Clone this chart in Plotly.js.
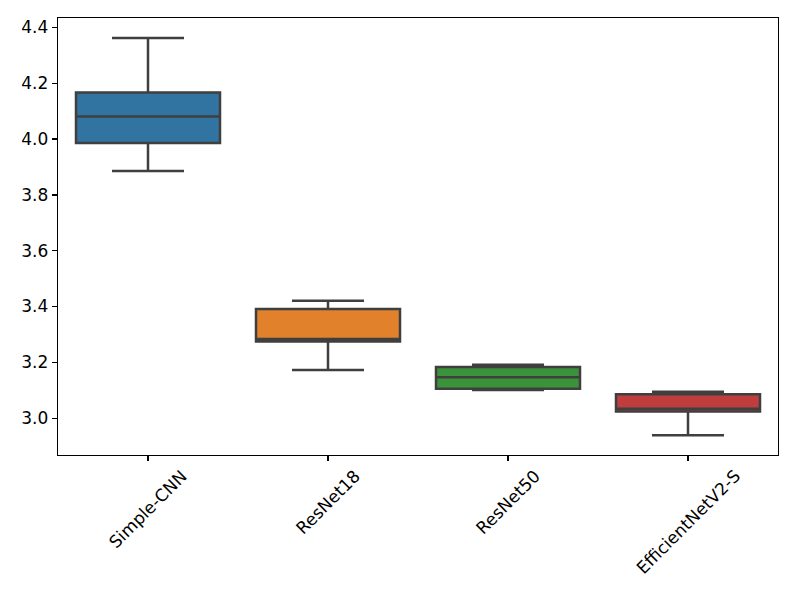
<!DOCTYPE html>
<html>
<head>
<meta charset="utf-8">
<script src="https://cdn.plot.ly/plotly-3.0.1.min.js"></script>
<style>html,body{margin:0;padding:0;background:#fff;}#chart{width:797px;height:598px;}</style>
</head>
<body>
<div id="chart"></div>
<script>
const categories = ["Simple-CNN", "ResNet18", "ResNet50", "EfficientNetV2-S"];
const lowerWhisker = [3.886, 3.173, 3.101, 2.939];
const q1Values = [3.986, 3.275, 3.105, 3.024];
const medianValues = [4.081, 3.284, 3.147, 3.034];
const q3Values = [4.167, 3.391, 3.183, 3.086];
const upperWhisker = [4.362, 3.421, 3.191, 3.095];
const yTickValues = [3.0, 3.2, 3.4, 3.6, 3.8, 4.0, 4.2, 4.4];
const boxColors = ["#3274a1", "#e1812c", "#3a923a", "#c03d3e"];

const traces = categories.map((c, i) => ({
  type: "box",
  x: [c],
  q1: [q1Values[i]],
  median: [medianValues[i]],
  q3: [q3Values[i]],
  lowerfence: [lowerWhisker[i]],
  upperfence: [upperWhisker[i]],
  boxpoints: false,
  width: 0.8,
  whiskerwidth: 0.5,
  fillcolor: boxColors[i],
  line: {color: "#3f3f3f", width: 2.5},
  hoverinfo: "skip",
  showlegend: false
}));

const annotations = categories.map(c => ({
  x: c, xref: "x", y: 0, yref: "paper",
  text: c, showarrow: false, textangle: -45,
  xanchor: "center", yanchor: "top", yshift: -8,
  font: {family: "DejaVu Sans", size: 17, color: "#000"}
}));

const layout = {
  width: 797, height: 598,
  margin: {l: 58, r: 19, t: 18, b: 143},
  paper_bgcolor: "#fff", plot_bgcolor: "#fff",
  boxmode: "overlay",
  font: {family: "DejaVu Sans", size: 17, color: "#000"},
  xaxis: {
    type: "category", categoryorder: "array", categoryarray: categories,
    range: [-0.5, 3.5], showticklabels: false,
    ticks: "outside", ticklen: 5, tickwidth: 1.3, tickcolor: "#000",
    showline: true, mirror: true, linecolor: "#000", linewidth: 1.3,
    showgrid: false, zeroline: false
  },
  yaxis: {
    range: [2.868, 4.434], tickvals: yTickValues,
    ticktext: yTickValues.map(v => v.toFixed(1)),
    ticks: "outside", ticklen: 5, tickwidth: 1.3, tickcolor: "#000",
    showline: true, mirror: true, linecolor: "#000", linewidth: 1.3,
    showgrid: false, zeroline: false,
    tickfont: {family: "DejaVu Sans", size: 17, color: "#000"}
  },
  annotations: annotations
};

Plotly.newPlot("chart", traces, layout, {staticPlot: true, displayModeBar: false});
</script>
</body>
</html>
